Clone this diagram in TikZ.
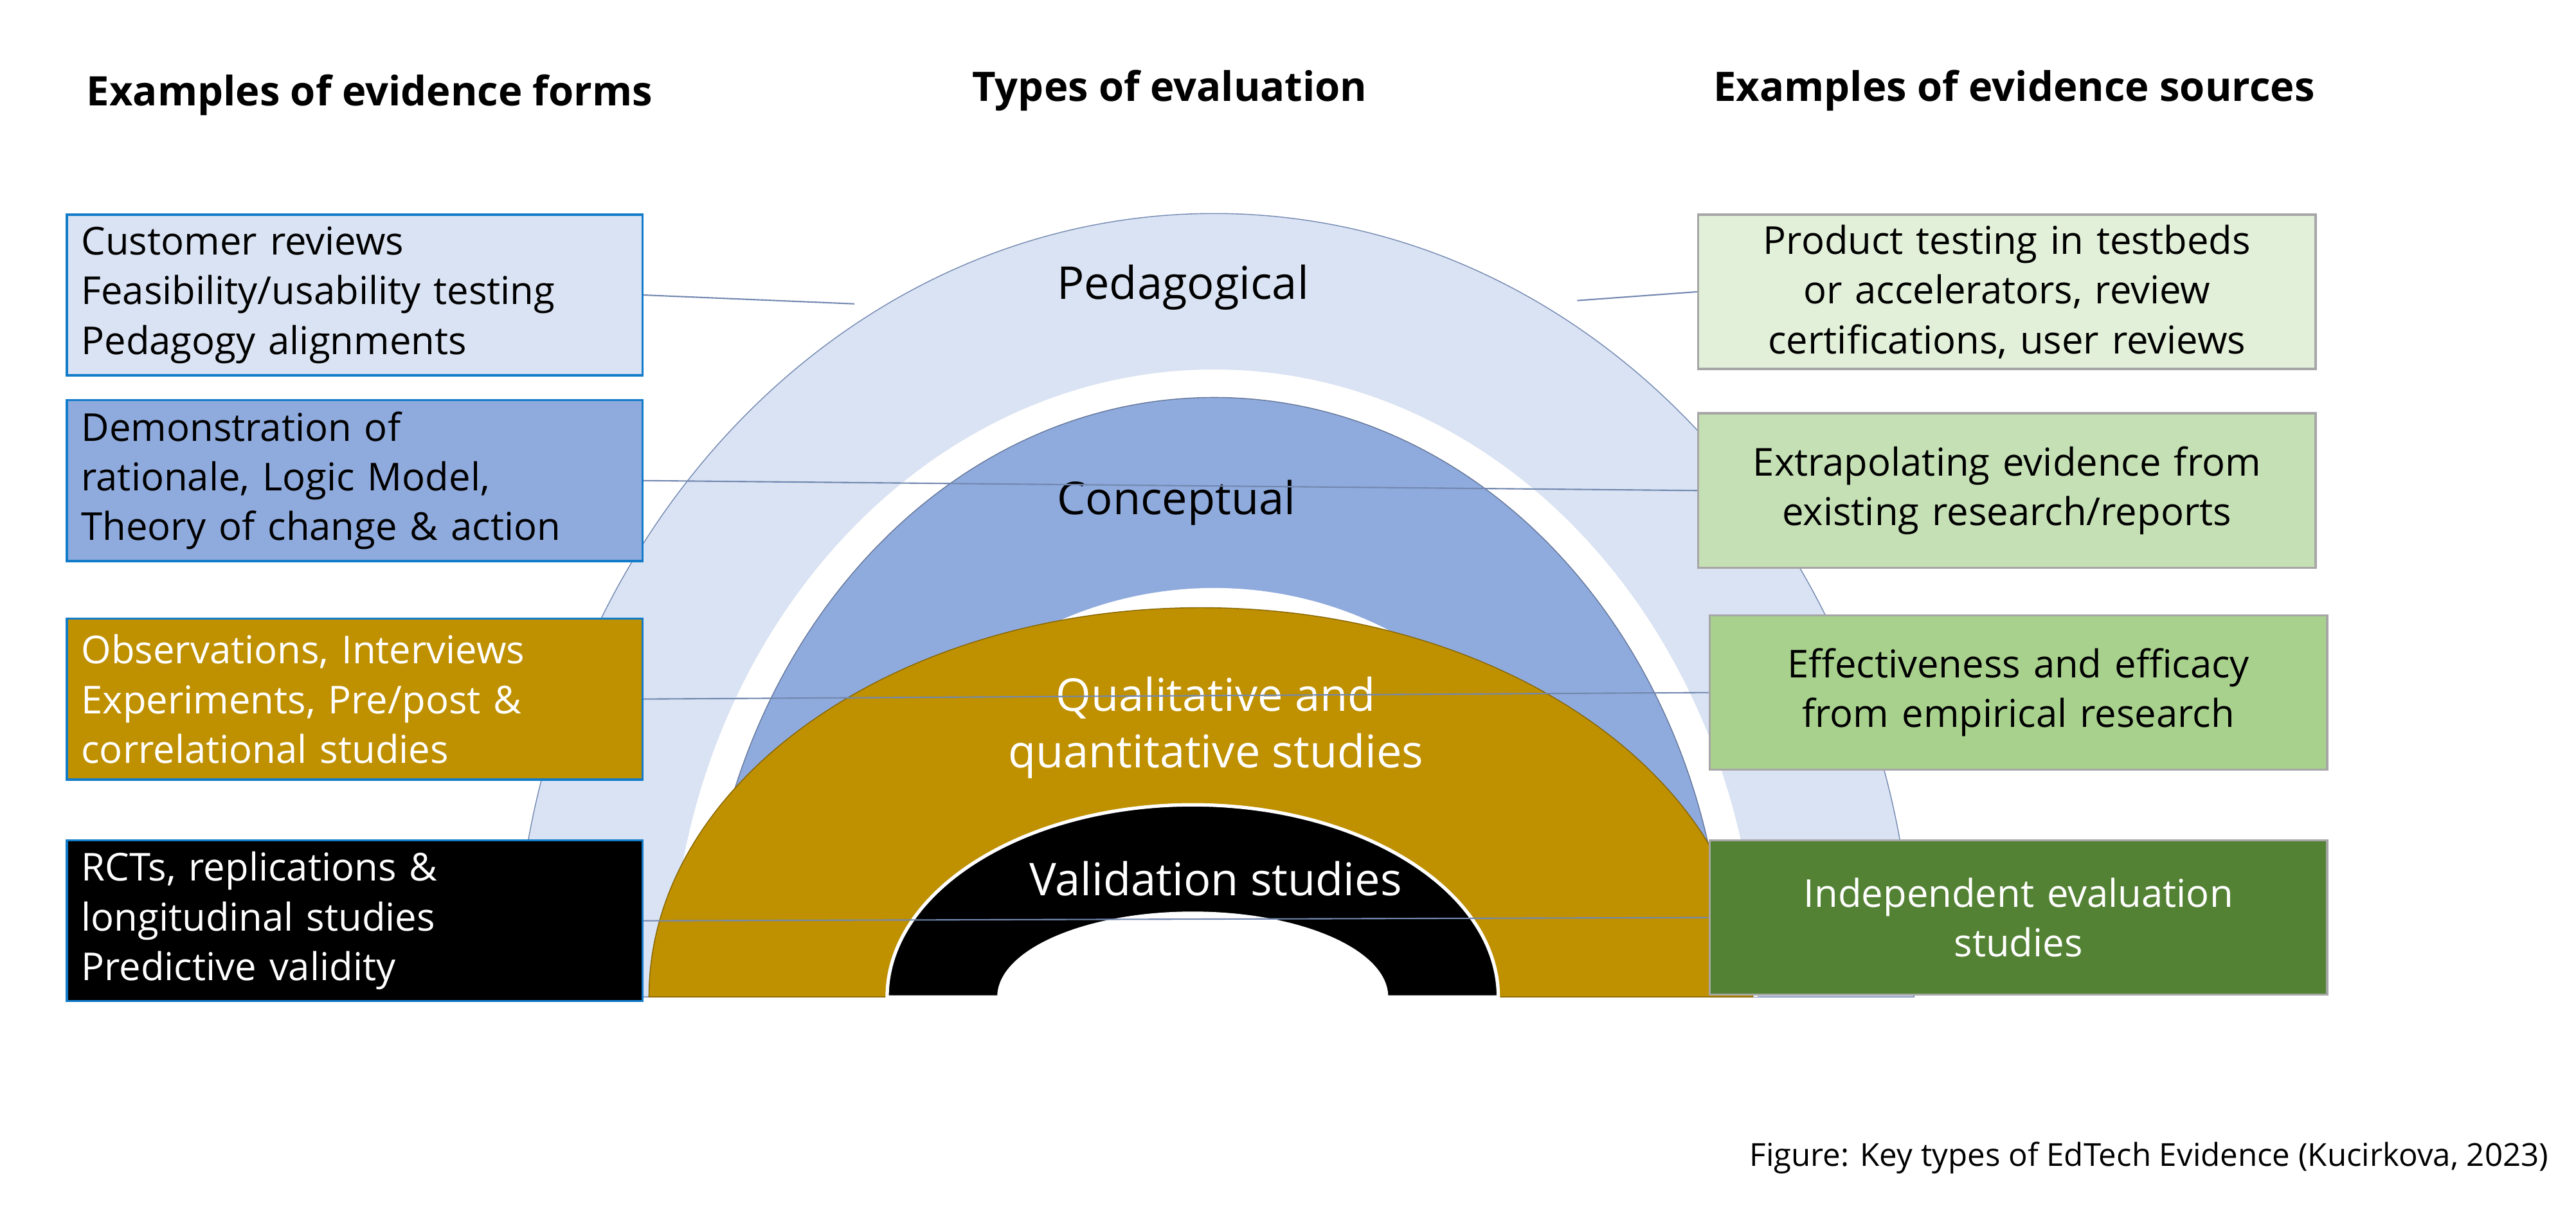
\documentclass[tikz,border=0pt]{standalone}
\usepackage{fontspec}
\setmainfont{Open Sans}
\usetikzlibrary{positioning}
\definecolor{pedblue}{HTML}{DAE3F3}
\definecolor{conblue}{HTML}{8FAADC}
\definecolor{qualgold}{HTML}{BF9000}
\definecolor{srcone}{HTML}{E2F0D9}
\definecolor{srctwo}{HTML}{C5E0B4}
\definecolor{srcthree}{HTML}{A9D18E}
\definecolor{srcfour}{HTML}{548235}
\begin{document}
\begin{tikzpicture}[x=0.02555cm, y=-0.02555cm,
    formbox/.style={rectangle, draw=cyan!60!blue, line width=1pt, minimum width=8.95cm, minimum height=2.5cm, align=left, text width=8.5cm, font=\fontsize{17}{22}\selectfont, anchor=north west},
    srcbox/.style={rectangle, draw=gray!70, line width=1pt, minimum width=9.6cm, minimum height=2.4cm, align=center, text width=9.3cm, font=\fontsize{17}{22}\selectfont, anchor=north west},
    heading/.style={font=\bfseries\fontsize{18}{22}\selectfont},
    ringlabel/.style={font=\fontsize{20}{25}\selectfont, align=center},
    link/.style={draw=conblue!80!black, line width=0.6pt}
]
\useasboundingbox (0,0) rectangle (1568,740);

% Headings
\node[heading] (hforms) at (225,58) {Examples of evidence forms};
\node[heading] (htypes) at (712,55) {Types of evaluation};
\node[heading] (hsources) at (1226,55) {Examples of evidence sources};

% Rings
\fill[pedblue, draw=conblue!80!black] (313,607) arc[start angle=180, end angle=360, x radius=426, y radius=477] -- cycle;
\fill[white] (408,607) arc[start angle=180, end angle=360, x radius=331, y radius=382] -- cycle;
\fill[conblue, draw=conblue!70!black] (428,607) arc[start angle=180, end angle=360, x radius=311, y radius=365] -- cycle;
\fill[white] (499,607) arc[start angle=180, end angle=360, x radius=240, y radius=249] -- cycle;
\fill[qualgold, draw=qualgold!70!black] (395,607) arc[start angle=180, end angle=360, x radius=336, y radius=237] -- cycle;
\fill[black, draw=white, line width=1.5pt] (540,607) arc[start angle=180, end angle=360, x radius=186, y radius=117] -- cycle;
\fill[white] (607,607) arc[start angle=180, end angle=360, x radius=119, y radius=52] -- cycle;

\node[ringlabel] (lped) at (720,175) {Pedagogical};
\node[ringlabel] (lcon) at (716,306) {Conceptual};
\node[ringlabel, text=white] (lqual) at (740,443) {Qualitative and\\quantitative studies};
\node[ringlabel, text=white] (lval) at (740,535) {Validation studies};

% Left boxes
\node[formbox, fill=pedblue] (f1) at (40,130) {Customer reviews\\Feasibility/usability testing\\Pedagogy alignments};
\node[formbox, fill=conblue] (f2) at (40,243) {Demonstration of\\rationale, Logic Model,\\Theory of change \& action};
\node[formbox, fill=qualgold, text=white] (f3) at (40,376) {Observations, Interviews\\Experiments, Pre/post \&\\correlational studies};
\node[formbox, fill=black, text=white] (f4) at (40,511) {RCTs, replications \&\\longitudinal studies\\Predictive validity};

% Right boxes
\node[srcbox, fill=srcone] (s1) at (1033,130) {Product testing in testbeds\\or accelerators, review\\certifications, user reviews};
\node[srcbox, fill=srctwo] (s2) at (1033,251) {Extrapolating evidence from\\existing research/reports};
\node[srcbox, fill=srcthree] (s3) at (1040,374) {Effectiveness and efficacy\\from empirical research};
\node[srcbox, fill=srcfour, text=white] (s4) at (1040,511) {Independent evaluation\\studies};

% Links
\draw[link] (f1.east) -- (520,185);
\draw[link] (960,183) -- (s1.west);
\draw[link] (f2.east) -- (s2.west);
\draw[link] (f3.east) -- (s3.west);
\draw[link] (f4.east) -- (s4.west);

% Caption
\node[font=\fontsize{14}{17}\selectfont, anchor=east] (caption) at (1556,705) {Figure: Key types of EdTech Evidence (Kucirkova, 2023)};
\end{tikzpicture}
\end{document}
